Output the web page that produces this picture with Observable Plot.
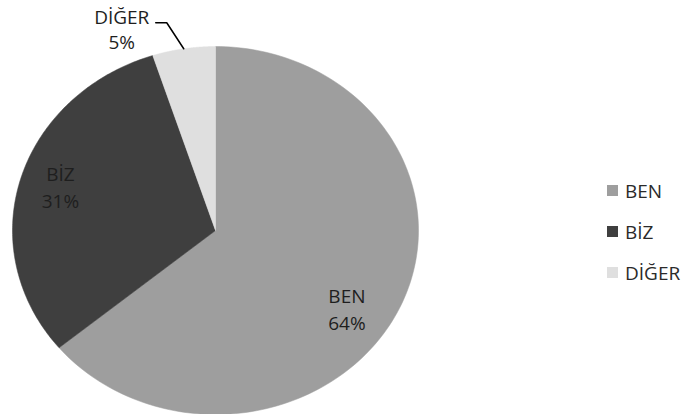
<!DOCTYPE html>
<html><head><meta charset="utf-8">
<script src="https://cdn.jsdelivr.net/npm/d3@7"></script>
<script src="https://cdn.jsdelivr.net/npm/@observablehq/plot@0.6"></script>
<style>
body{margin:0;background:#fff;}
#wrap{position:relative;width:688px;height:414px;font-family:"Open Sans",sans-serif;overflow:hidden;}
#legend{position:absolute;left:607px;top:170px;}
.item{display:flex;align-items:center;height:41px;font-size:19px;color:#2a2a2a;}
.sw{width:11px;height:11px;margin-right:7px;}
</style></head><body><div id="wrap"><div id="chart"></div><div id="legend"></div></div>
<script>
const categories = ["BEN", "BİZ", "DİĞER"];
const values = [64, 31, 5];
const percentLabels = ["64%", "31%", "5%"];
const colors = ["#9e9e9e", "#3f3f3f", "#dfdfdf"];

const W = 688, H = 414, CX = 215, CY = 230, RX = 203, RY = 184;
const LABEL_R = 0.77;
const nudges = [[-10, 17], [-5, -5]]; // pixel nudges of the inside labels

const arcs = d3.pie().sort(null).value(d => d)(values);

const slices = [];
arcs.forEach((a, i) => {
  const n = 160;
  slices.push({key: categories[i], u: 0, v: 0});
  for (let k = 0; k <= n; k++) {
    const t = a.startAngle + (a.endAngle - a.startAngle) * k / n;
    slices.push({key: categories[i], u: Math.sin(t), v: Math.cos(t)});
  }
  slices.push({key: categories[i], u: 0, v: 0});
});

const mid = a => (a.startAngle + a.endAngle) / 2;
const inside = arcs.slice(0, 2).map((a, i) => {
  const m = mid(a);
  return {
    u: LABEL_R * Math.sin(m) + nudges[i][0] / RX,
    v: LABEL_R * Math.cos(m) - nudges[i][1] / RY,
    text: categories[i] + "\n" + percentLabels[i]
  };
});

const o = arcs[2], om = mid(o);
const u0 = Math.sin(om), v0 = Math.cos(om);
const leader = [
  {u: u0, v: v0},
  {u: u0 - 17 / RX, v: v0 + 26 / RY},
  {u: u0 - 28 / RX, v: v0 + 26 / RY}
];
const outside = [{u: u0 - 62 / RX, v: v0 + 20 / RY, text: categories[2] + "\n" + percentLabels[2]}];

const marks = categories.map((c, i) =>
  Plot.line(slices.filter(d => d.key === c), {x: "u", y: "v", fill: colors[i], stroke: colors[i], strokeWidth: 0.5})
);
marks.push(Plot.line(leader, {x: "u", y: "v", stroke: "#000", strokeWidth: 1.5}));
marks.push(Plot.text(inside, {x: "u", y: "v", text: "text", fontSize: 19, lineHeight: 1.4, fill: "#1e1e1e"}));
marks.push(Plot.text(outside, {x: "u", y: "v", text: "text", fontSize: 19, lineHeight: 1.3, fill: "#1e1e1e"}));

const chart = Plot.plot({
  width: W, height: H,
  margin: 0,
  x: {domain: [-CX / RX, (W - CX) / RX], range: [0, W], axis: null},
  y: {domain: [(CY - H) / RY, CY / RY], range: [H, 0], axis: null},
  style: {fontFamily: "'Open Sans', sans-serif", background: "#fff"},
  marks
});
document.getElementById("chart").appendChild(chart);

const legend = document.getElementById("legend");
categories.forEach((c, i) => {
  const item = document.createElement("div");
  item.className = "item";
  const sw = document.createElement("span");
  sw.className = "sw";
  sw.style.background = colors[i];
  const lab = document.createElement("span");
  lab.textContent = c;
  item.appendChild(sw); item.appendChild(lab);
  legend.appendChild(item);
});
</script></body></html>
